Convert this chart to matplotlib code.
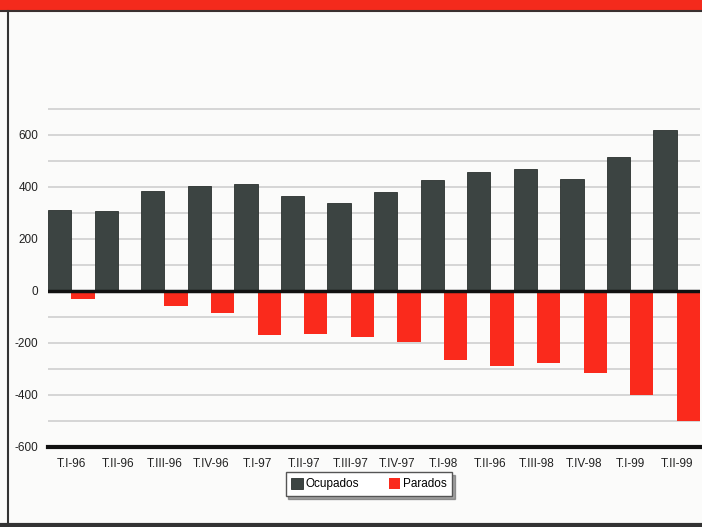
import matplotlib
matplotlib.use("Agg")
import matplotlib.pyplot as plt
from matplotlib.patches import Rectangle
from matplotlib.lines import Line2D
import numpy as np

plt.rcParams['font.family'] = ['Liberation Sans', 'DejaVu Sans']

categories = ["T.I-96", "T.II-96", "T.III-96", "T.IV-96", "T.I-97", "T.II-97",
              "T.III-97", "T.IV-97", "T.I-98", "T.II-96", "T.III-98", "T.IV-98",
              "T.I-99", "T.II-99"]
ocupados = [312, 307, 385, 404, 411, 365, 338, 381, 427, 458, 469, 430, 515, 618]
parados = [-30, -4, -58, -85, -169, -165, -177, -196, -265, -288, -276, -316, -399, -499]
yticks = [-600, -400, -200, 0, 200, 400, 600]

W, H = 702, 527
fig = plt.figure(figsize=(W / 100, H / 100), dpi=100)
fig.patch.set_facecolor("#fbfbfa")

# page decorations
fig.add_artist(Rectangle((0, 1 - 10 / H), 1, 10 / H, transform=fig.transFigure,
                         facecolor="#f42a1c", edgecolor="none"))
fig.add_artist(Line2D([0, 1], [1 - 11 / H, 1 - 11 / H], transform=fig.transFigure,
                      color="#3a3030", lw=1.5))
fig.add_artist(Line2D([8 / W, 8 / W], [0, 1 - 11 / H], transform=fig.transFigure,
                      color="#333333", lw=1.5))
fig.add_artist(Line2D([0, 1], [2 / H, 2 / H], transform=fig.transFigure,
                      color="#333333", lw=3))

ymin, ymax = -600, 720
left, right = 48 / W, 700 / W
bottom = 1 - 447 / H
top = 1 - (291 - ymax * 0.26) / H
ax = fig.add_axes([left, bottom, right - left, top - bottom])
ax.set_facecolor("none")

x = np.arange(len(categories))
ax.set_xlim(-0.5, len(categories) - 0.5)
ax.set_ylim(ymin, ymax)

for g in range(-500, 701, 100):
    if g != 0:
        ax.axhline(g, color="#cfcfcf", lw=1.2, zorder=0)

b1 = ax.bar(x - 0.25, ocupados, width=0.5, color="#3c4442", edgecolor="#2a302e",
            linewidth=0.6, label="Ocupados", zorder=2)
b2 = ax.bar(x + 0.25, parados, width=0.5, color="#fa2a1c", label="Parados", zorder=2)
ax.axhline(0, color="#111111", lw=2.5, zorder=3)
ax.axhline(-600, color="#111111", lw=3, zorder=3, clip_on=False)

for s in ax.spines.values():
    s.set_visible(False)
ax.set_yticks(yticks)
ax.set_yticklabels([str(v) for v in yticks], fontsize=8.5, color="#222222")
ax.set_xticks(x)
ax.set_xticklabels(categories, fontsize=8.5, color="#222222")
ax.tick_params(axis="y", length=0, pad=7)
ax.tick_params(axis="x", length=0, pad=8)

leg = fig.legend(handles=[b1, b2], loc="center", bbox_to_anchor=(369 / W, 1 - 484 / H),
                 ncol=2, fontsize=8.5, frameon=True, fancybox=False, shadow=True,
                 handlelength=1.0, handleheight=1.1, handletextpad=0.2,
                 columnspacing=2.5, borderpad=0.5)
leg.get_frame().set_edgecolor("#555555")
leg.get_frame().set_linewidth(1.0)

fig.savefig("out.png", dpi=100, facecolor=fig.get_facecolor())
